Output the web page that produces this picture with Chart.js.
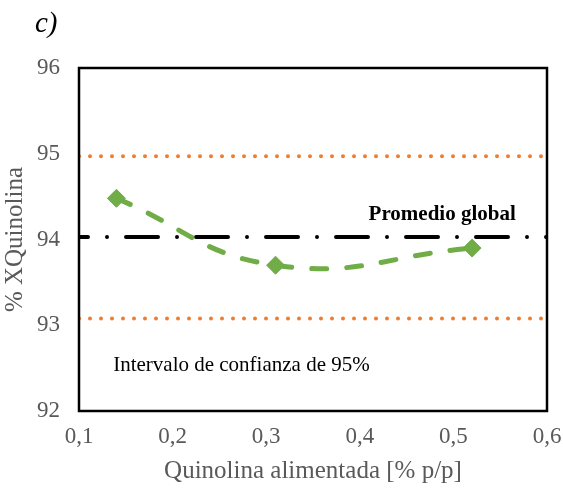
<!DOCTYPE html>
<html>
<head>
<meta charset="utf-8">
<script src="https://cdn.jsdelivr.net/npm/chart.js@4/dist/chart.umd.min.js"></script>
<style>
  html, body { margin: 0; padding: 0; background: #fff; }
  #wrap { width: 563px; height: 490px; position: relative; }
</style>
</head>
<body>
<div id="wrap"><canvas id="c"></canvas></div>
<script>
// Feed concentration of quinoline [% w/w] and its conversion [%]
const feedQuinoline = [0.14, 0.31, 0.52];
const conversion = [94.48, 93.70, 93.90];

// Global mean and 95 % confidence limits, drawn across the whole x range
const xRange = [0.1, 0.6];
const globalMean = [94.03, 94.03];
const upperLimit = [94.97, 94.97];
const lowerLimit = [93.08, 93.08];

// Axis limits and tick steps
const xTicks = [0.1, 0.2, 0.3, 0.4, 0.5, 0.6];
const yTicks = [92, 93, 94, 95, 96];

const toPts = (xs, ys) => xs.map((x, i) => ({ x: x, y: ys[i] }));

const GREEN = '#70AD47';
const ORANGE = '#ED7D31';
const GRAY = '#595959';
const SERIF = '"Liberation Serif", "Times New Roman", serif';

// Frame around the plot area plus the text notes inside it
const decorations = {
  id: 'decorations',
  afterDatasetsDraw(chart) {
    const { ctx, chartArea: a, scales } = chart;
    ctx.save();
    ctx.strokeStyle = '#000';
    ctx.lineWidth = 2.5;
    ctx.strokeRect(a.left, a.top, a.right - a.left, a.bottom - a.top);

    ctx.fillStyle = '#000';
    ctx.textBaseline = 'middle';
    ctx.textAlign = 'center';
    ctx.font = 'bold 21px ' + SERIF;
    ctx.fillText('Promedio global', scales.x.getPixelForValue(0.488), scales.y.getPixelForValue(94.29));
    ctx.textAlign = 'left';
    ctx.font = '21px ' + SERIF;
    ctx.fillText('Intervalo de confianza de 95%', scales.x.getPixelForValue(0.1365), scales.y.getPixelForValue(92.53));

    ctx.font = 'italic 29px ' + SERIF;
    ctx.textAlign = 'left';
    ctx.fillText('c)', 35, 24);
    ctx.restore();
  }
};

new Chart(document.getElementById('c'), {
  type: 'scatter',
  data: {
    datasets: [
      {
        label: 'Límite superior',
        data: toPts(xRange, upperLimit),
        showLine: true,
        borderColor: ORANGE,
        borderWidth: 4,
        borderDash: [0, 11],
        borderCapStyle: 'round',
        pointRadius: 0,
        order: 3
      },
      {
        label: 'Límite inferior',
        data: toPts(xRange, lowerLimit),
        showLine: true,
        borderColor: ORANGE,
        borderWidth: 4,
        borderDash: [0, 11],
        borderCapStyle: 'round',
        pointRadius: 0,
        order: 3
      },
      {
        label: 'Promedio global',
        data: toPts(xRange, globalMean),
        showLine: true,
        borderColor: '#000',
        borderWidth: 4,
        borderDash: [32, 19, 0, 19],
        borderDashOffset: 23,
        borderCapStyle: 'round',
        pointRadius: 0,
        order: 2
      },
      {
        label: '% XQuinolina',
        data: toPts(feedQuinoline, conversion),
        showLine: true,
        tension: 0.45,
        borderColor: GREEN,
        borderWidth: 5,
        borderDash: [15, 20],
        borderCapStyle: 'round',
        pointStyle: 'rectRot',
        pointRadius: 9,
        pointBackgroundColor: GREEN,
        pointBorderColor: GREEN,
        pointBorderWidth: 1,
        order: 1
      }
    ]
  },
  options: {
    responsive: true,
    maintainAspectRatio: false,
    animation: false,
    layout: { padding: { top: 68, right: 16, left: 0, bottom: 0 } },
    plugins: {
      legend: { display: false },
      tooltip: { enabled: false }
    },
    scales: {
      x: {
        type: 'linear',
        min: xTicks[0],
        max: xTicks[xTicks.length - 1],
        afterBuildTicks(scale) { scale.ticks = xTicks.map(v => ({ value: v })); },
        afterFit(scale) {
          scale.height = 79;
          scale.paddingLeft = 0;
          scale.paddingRight = 0;
        },
        grid: { display: false, drawTicks: false },
        border: { display: false },
        ticks: {
          color: GRAY,
          font: { family: SERIF, size: 23 },
          padding: 12,
          maxRotation: 0,
          callback: v => v.toFixed(1).replace('.', ',')
        },
        title: {
          display: true,
          text: 'Quinolina alimentada [% p/p]',
          color: GRAY,
          font: { family: SERIF, size: 25 },
          padding: { top: 1 }
        }
      },
      y: {
        type: 'linear',
        min: yTicks[0],
        max: yTicks[yTicks.length - 1],
        afterBuildTicks(scale) { scale.ticks = yTicks.map(v => ({ value: v })); },
        afterFit(scale) {
          scale.width = 79;
          scale.paddingTop = 0;
          scale.paddingBottom = 0;
        },
        grid: { display: false, drawTicks: false },
        border: { display: false },
        ticks: {
          color: GRAY,
          font: { family: SERIF, size: 23 },
          padding: 19,
          callback: v => String(v)
        },
        title: {
          display: true,
          text: '% XQuinolina',
          color: GRAY,
          font: { family: SERIF, size: 25 },
          padding: { top: 0, bottom: 0 }
        }
      }
    }
  },
  plugins: [decorations]
});
</script>
</body>
</html>
